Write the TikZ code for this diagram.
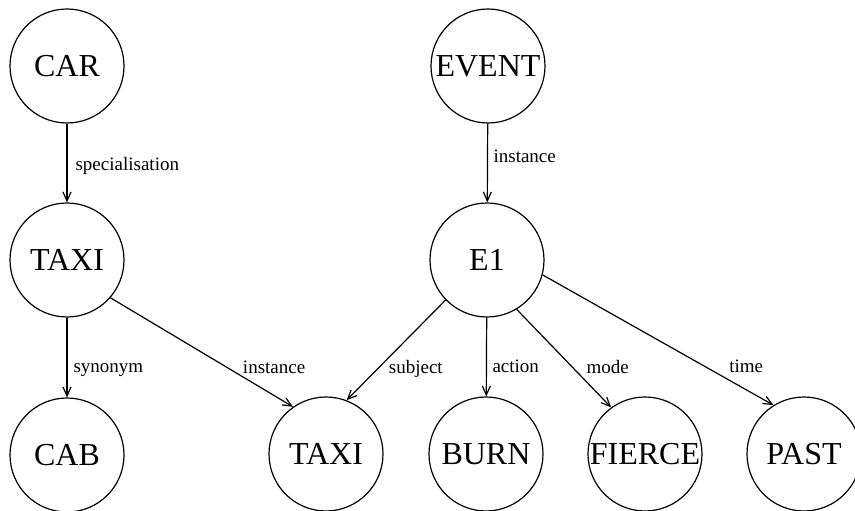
\documentclass[tikz,border=0pt]{standalone}
\usepackage{fontspec}
\setmainfont{Liberation Serif}
\usetikzlibrary{arrows.meta,positioning}

\begin{document}
\begin{tikzpicture}[>={Straight Barb[length=9pt,width=8pt]},x=1pt,y=-1pt,line width=1.2pt]
	\useasboundingbox (0,0) rectangle (855,511);
	\tikzset{every node/.style={circle,draw,minimum size=114pt,inner sep=0pt,font=\fontsize{32}{32}\selectfont}}
	\node (A) at (67,66)   {CAR};
	\node (B) at (67,260)  {TAXI};
	\node (C) at (67,455)  {CAB};
	\node (D) at (326,454) {TAXI};
	\node (E) at (488,66)  {EVENT};
	\node (F) at (487,260) {E1};
	\node (G) at (486,454) {BURN};
	\node (H) at (645,454) {FIERCE};
	\node (I) at (804,454) {PAST};
	\tikzset{every node/.style={inner sep=0pt,anchor=base west,font=\fontsize{19}{19}\selectfont}}
	\tikzset{mystyle/.style={->}}
	\path
	(A)     edge [mystyle]   node [pos=0.59,xshift=8pt]   {specialisation} (B)
	(E)     edge [mystyle]   node [pos=0.49,xshift=5.5pt] {instance} (F)
	(B)     edge [mystyle]   node [pos=0.69,xshift=6pt]   {synonym} (C)
	(B.-41) edge [mystyle]   node [pos=0.69,xshift=6pt]   {instance} (D.125)
	(F.224) edge [mystyle]   node [pos=0.73,xshift=15pt]  {subject} (D.69)
	(F)     edge [mystyle]   node [pos=0.70,xshift=5.5pt] {action} (G)
	(F.-59) edge [mystyle]   node [pos=0.65,xshift=8pt]   {mode} (H.126)
	(F.-15) edge [mystyle]   node [pos=0.75,xshift=13pt]  {time} (I.122);
\end{tikzpicture}
\end{document}
